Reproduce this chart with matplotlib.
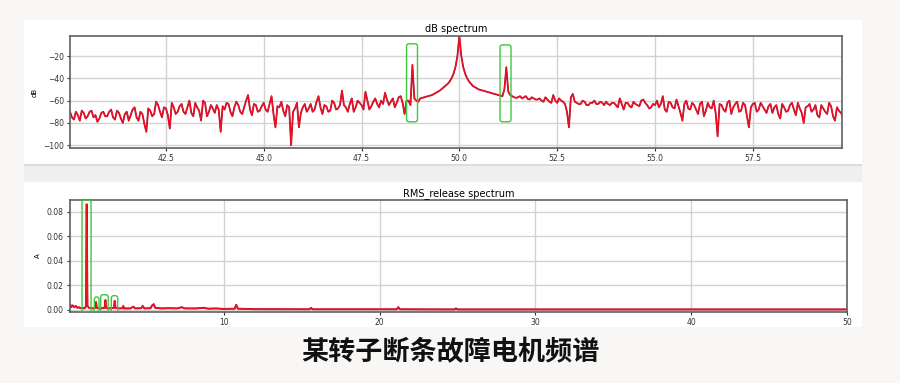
import numpy as np
import matplotlib
matplotlib.use("Agg")
import matplotlib.pyplot as plt
from matplotlib.patches import FancyBboxPatch, Rectangle

#--------------------------------#
# dB spectrum around the 50 Hz line and RMS spectrum of a motor with a broken rotor bar
#--------------------------------#

# dB spectrum, values at 40.0, 40.1, ... 59.8 Hz
db_start = 40.0
db_step = 0.1
db_values = [
    -72, -75, -70, -78, -71, -74, -69, -73, -76, -70,   # 40
    -74, -68, -77, -71, -80, -70, -73, -66, -78, -72,   # 41
    -88, -69, -72, -64, -75, -67, -85, -66, -70, -63,   # 42
    -72, -60, -74, -66, -78, -62, -70, -67, -64, -88,   # 43
    -68, -63, -74, -61, -70, -66, -55, -73, -64, -69,   # 44
    -62, -70, -56, -84, -66, -69, -64, -100, -67, -84,  # 45
    -66, -70, -63, -68, -56, -72, -65, -69, -62, -67,   # 46
    -51, -66, -63, -70, -60, -64, -52, -68, -61, -63,   # 47
    -60, -53, -64, -58, -62, -56, -72, -60, -28, -60,   # 48
    -58, -57, -56, -55, -53, -51, -48, -45, -40, -30,   # 49
    -2, -30, -40, -45, -48, -50, -51, -52, -53, -54,    # 50
    -55, -56, -30, -55, -57, -57, -58, -56, -59, -58,   # 51
    -59, -60, -57, -61, -55, -62, -60, -63, -84, -54,   # 52
    -62, -63, -61, -64, -62, -63, -61, -64, -63, -62,   # 53
    -64, -58, -68, -62, -66, -63, -65, -59, -64, -66,   # 54
    -64, -66, -56, -70, -62, -67, -65, -78, -60, -68,   # 55
    -64, -72, -61, -69, -66, -60, -92, -64, -70, -60,   # 56
    -66, -61, -69, -64, -84, -63, -70, -62, -68, -65,   # 57
    -71, -64, -76, -66, -69, -62, -73, -67, -80, -65,   # 58
    -70, -64, -75, -67, -72, -65, -78, -69, -74,        # 59
]
# dB spectrum, values at 40.05, 40.15, ... 59.75 Hz
db_mid = [
    -70, -77, -73, -69, -76, -70, -75, -79, -71, -74,   # 40
    -70, -75, -69, -76, -72, -78, -68, -75, -70, -81,   # 41
    -67, -74, -61, -70, -66, -73, -62, -72, -65, -70,   # 42
    -66, -71, -62, -69, -60, -74, -64, -71, -68, -65,   # 43
    -62, -70, -66, -64, -72, -60, -68, -63, -70, -65,   # 44
    -68, -63, -72, -65, -61, -74, -66, -70, -62, -71,   # 45
    -63, -67, -70, -61, -66, -64, -70, -60, -68, -64,   # 46
    -64, -70, -58, -66, -62, -68, -60, -65, -58, -66,   # 47
    -63, -59, -61, -66, -57, -62, -60, -64, -58, -61,   # 48
    -57.5, -56.5, -55.5, -54, -52, -49.5, -46.5, -43, -36, -20,   # 49
    -20, -36, -43, -47, -49, -50.5, -51.5, -52.5, -53.5, -54.5,   # 50
    -55.5, -50, -52, -56, -57.5, -56, -57, -58.5, -57, -59,       # 51
    -58, -61, -59, -62, -60, -58, -61, -70, -57, -61,   # 52
    -63, -60, -64, -62, -60, -63, -62, -61, -64, -62,   # 53
    -66, -63, -62, -65, -61, -64, -60, -62, -67, -63,   # 54
    -60, -63, -68, -61, -66, -59, -71, -63, -67, -62,   # 55
    -68, -63, -74, -62, -67, -71, -63, -68, -62, -72,   # 56
    -63, -70, -62, -74, -66, -62, -68, -65, -71, -63,   # 57
    -66, -72, -63, -70, -64, -68, -62, -71, -66, -63,   # 58
    -68, -73, -64, -70, -62, -74, -66, -71,             # 59
]
db_all = np.empty(len(db_values) + len(db_mid))
db_all[0::2] = db_values
db_all[1::2] = db_mid
db_freq = db_start + db_step / 2 * np.arange(len(db_all))

# RMS_release spectrum (Hz, A)
rms_freq = [0.15, 0.2, 0.3, 0.4, 0.5, 0.6, 0.7, 0.8, 0.9, 1.0, 1.1, 1.15, 1.2, 1.25,
            1.35, 1.5, 1.65, 1.75, 1.8, 1.85, 2.0, 2.2, 2.35, 2.4, 2.45, 2.6, 2.8,
            2.95, 3.0, 3.05, 3.3, 3.5, 3.55, 3.6, 4.0, 4.2, 4.3, 4.7, 4.8, 4.9, 5.3,
            5.4, 5.5, 5.6, 6.0, 6.5, 7.0, 7.3, 7.5, 8.2, 8.7, 9.0, 9.5, 10.0, 10.7,
            10.8, 10.9, 12.0, 15.5, 15.6, 15.7, 21.1, 21.2, 21.3, 24.8, 24.9, 25.0,
            35.0, 50.0]
rms_amp = [0.004, 0.002, 0.0035, 0.002, 0.003, 0.0015, 0.002, 0.0012, 0.0015, 0.001,
           0.0015, 0.003, 0.086, 0.003, 0.0015, 0.0012, 0.001, 0.0015, 0.0062, 0.0015,
           0.001, 0.0012, 0.0015, 0.0078, 0.0015, 0.001, 0.0012, 0.0015, 0.0072, 0.0015,
           0.001, 0.0012, 0.003, 0.001, 0.001, 0.0025, 0.001, 0.0012, 0.003, 0.001,
           0.0012, 0.0035, 0.0045, 0.0015, 0.001, 0.0012, 0.001, 0.002, 0.001, 0.001,
           0.0015, 0.0008, 0.001, 0.0006, 0.0008, 0.004, 0.0008, 0.0004, 0.0003, 0.0015,
           0.0003, 0.0003, 0.002, 0.0003, 0.0002, 0.001, 0.0002, 0.0002, 0.0002]

# highlighted regions: (x0, x1, y0, y1)
db_boxes = [(48.65, 48.93, -79, -9), (51.04, 51.32, -79, -10)]
rms_boxes = [(0.9, 1.48, -0.002, 0.0895), (1.69, 1.99, -0.0027, 0.0104),
             (2.1, 2.58, -0.0027, 0.0122), (2.78, 3.19, -0.0024, 0.0114)]

caption = "某转子断条故障电机频谱"

line_red = "#f0101f"
line_dark = "#b0143a"
box_green = "#3cc83c"

fig = plt.figure(figsize=(9, 3.83), dpi=100)
fig.set_facecolor("#f8f7f5")

# window panels behind the plots
fig.add_artist(Rectangle((0.0267, 0.569), 0.931, 0.379, transform=fig.transFigure,
                         facecolor="white", edgecolor="none", zorder=-2))
fig.add_artist(Rectangle((0.0267, 0.146), 0.931, 0.379, transform=fig.transFigure,
                         facecolor="white", edgecolor="none", zorder=-2))
fig.add_artist(Rectangle((0.0267, 0.525), 0.931, 0.044, transform=fig.transFigure,
                         facecolor="#efefef", edgecolor="none", zorder=5))
fig.add_artist(Rectangle((0.0267, 0.567), 0.931, 0.004, transform=fig.transFigure,
                         facecolor="#dcdcdc", edgecolor="none", zorder=6))
fig.add_artist(Rectangle((0.0, 0.0), 1.0, 0.146, transform=fig.transFigure,
                         facecolor="#f8f7f5", edgecolor="none", zorder=5))


def style_axes(ax):
    ax.grid(True, color="#d2d2d2", linewidth=1.0)
    ax.set_axisbelow(True)
    for s in ax.spines.values():
        s.set_color("#606060")
        s.set_linewidth(1.2)
    ax.tick_params(labelsize=5.5, length=2.5, width=0.8, pad=2, colors="#333333")


ax1 = fig.add_axes([0.0778, 0.6136, 0.8578, 0.2924])
ax1.plot(db_freq, db_all, color=line_dark, linewidth=1.3)
ax1.plot(db_freq, db_all, color=line_red, linewidth=0.8)
ax1.set_xlim(40.05, 59.78)
ax1.set_ylim(-102.5, -2)
ax1.set_xticks([42.5, 45.0, 47.5, 50.0, 52.5, 55.0, 57.5])
ax1.set_yticks([-100, -80, -60, -40, -20])
ax1.set_title("dB spectrum", fontsize=7, pad=3)
ax1.set_ylabel("dB", fontsize=5, labelpad=4)
ax1.set_xlabel("Hz", fontsize=5, labelpad=2)
style_axes(ax1)
for x0, x1, y0, y1 in db_boxes:
    ax1.add_patch(FancyBboxPatch((x0, y0), x1 - x0, y1 - y0,
                                 boxstyle="round,pad=0,rounding_size=0.06",
                                 mutation_aspect=35, fill=False,
                                 edgecolor=box_green, linewidth=1.0, zorder=4))

ax2 = fig.add_axes([0.0778, 0.1854, 0.8633, 0.2924])
ax2.plot(rms_freq, rms_amp, color=line_dark, linewidth=1.4)
ax2.plot(rms_freq, rms_amp, color=line_red, linewidth=1.0)
ax2.set_xlim(0.13, 50)
ax2.set_ylim(-0.0019, 0.0895)
ax2.set_xticks([10, 20, 30, 40, 50])
ax2.set_yticks([0.0, 0.02, 0.04, 0.06, 0.08])
ax2.set_yticklabels(["0.00", "0.02", "0.04", "0.06", "0.08"])
ax2.set_title("RMS_release spectrum", fontsize=7, pad=3)
ax2.set_ylabel("A", fontsize=5, labelpad=4)
ax2.set_xlabel("Hz", fontsize=5, labelpad=2)
style_axes(ax2)
for x0, x1, y0, y1 in rms_boxes:
    ax2.add_patch(FancyBboxPatch((x0, y0), x1 - x0, y1 - y0,
                                 boxstyle="round,pad=0,rounding_size=0.15",
                                 mutation_aspect=0.0128, fill=False,
                                 edgecolor=box_green, linewidth=1.0, zorder=4))

fig.text(0.5, 0.08, caption, ha="center", va="center", fontsize=19.5,
         fontweight="bold", family=["Noto Sans CJK SC", "DejaVu Sans"],
         color="#111111", zorder=7)

fig.savefig("out.png", dpi=100, facecolor=fig.get_facecolor())
